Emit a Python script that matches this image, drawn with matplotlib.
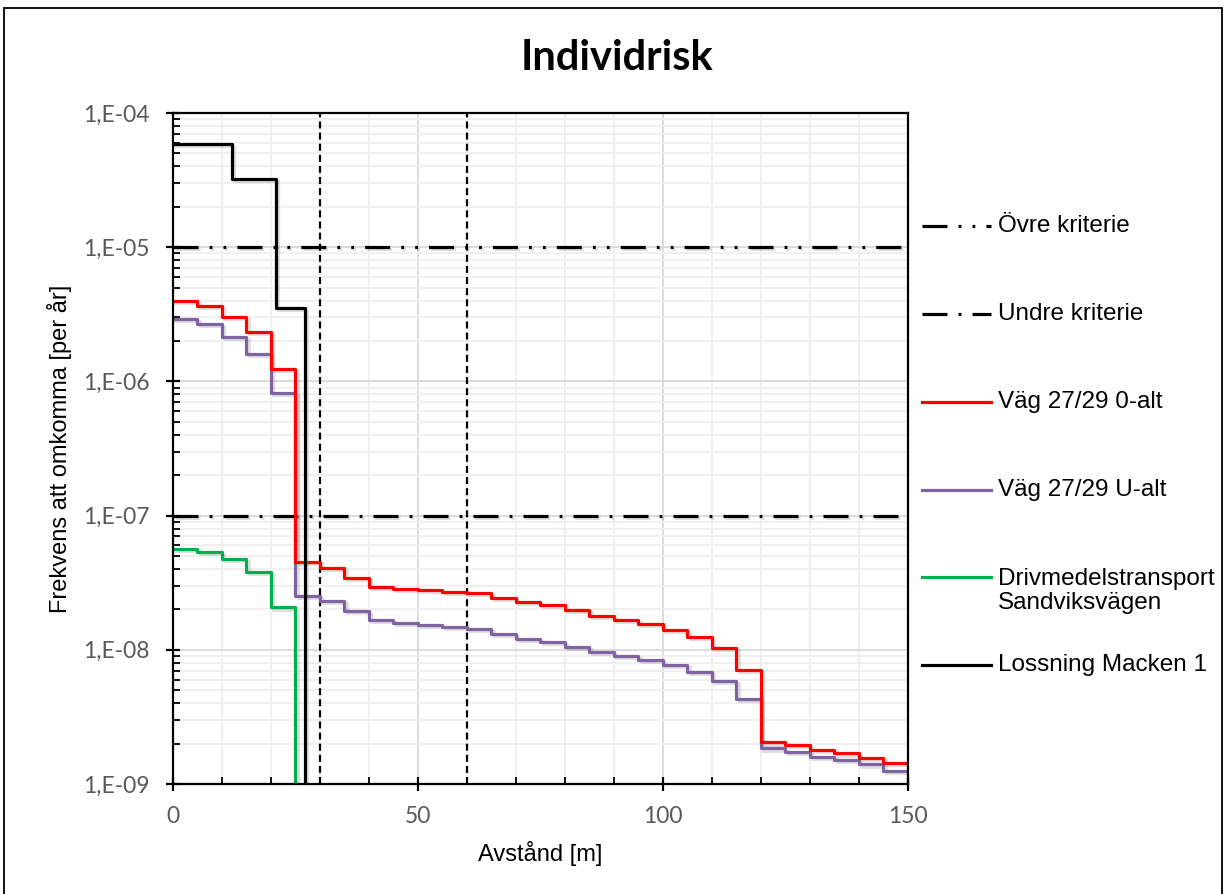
import numpy as np
import matplotlib.pyplot as plt
from matplotlib.lines import Line2D
from matplotlib.patches import Rectangle
from matplotlib.ticker import FixedLocator, LogLocator, NullFormatter
import matplotlib.patheffects as pe

plt.rcParams['lines.scale_dashes'] = False

# step positions [m]
dist = [0, 5, 10, 15, 20, 25, 30, 35, 40, 45, 50, 55, 60, 65, 70, 75,
        80, 85, 90, 95, 100, 105, 110, 115, 120, 125, 130, 135, 140, 145, 150]

vag_0alt = [3.97e-6, 3.65e-6, 3.0e-6, 2.33e-6, 1.23e-6, 4.49e-8, 4.09e-8, 3.45e-8,
            2.95e-8, 2.85e-8, 2.79e-8, 2.70e-8, 2.64e-8, 2.43e-8, 2.26e-8, 2.15e-8,
            1.98e-8, 1.80e-8, 1.67e-8, 1.55e-8, 1.41e-8, 1.25e-8, 1.03e-8, 7.08e-9,
            2.04e-9, 1.95e-9, 1.79e-9, 1.69e-9, 1.57e-9, 1.43e-9, 1.27e-9]

vag_ualt = [2.92e-6, 2.68e-6, 2.16e-6, 1.60e-6, 8.15e-7, 2.52e-8, 2.31e-8, 1.95e-8,
            1.66e-8, 1.59e-8, 1.53e-8, 1.47e-8, 1.42e-8, 1.31e-8, 1.20e-8, 1.14e-8,
            1.05e-8, 9.57e-9, 8.99e-9, 8.4e-9, 7.7e-9, 6.87e-9, 5.86e-9, 4.3e-9,
            1.84e-9, 1.74e-9, 1.60e-9, 1.51e-9, 1.40e-9, 1.26e-9, 1.0e-9]

driv_dist = [0, 5, 10, 15, 20, 25]
driv_vals = [5.63e-8, 5.38e-8, 4.72e-8, 3.78e-8, 2.07e-8, 1e-10]

loss_dist = [0, 12, 21, 27]
loss_vals = [5.9e-5, 3.2e-5, 3.5e-6, 1e-10]

ovre_krit = 1e-5
undre_krit = 1e-7
vert_lines = [30, 60]

y_ticks = [1e-9, 1e-8, 1e-7, 1e-6, 1e-5, 1e-4]
y_labels = ['1,E-09', '1,E-08', '1,E-07', '1,E-06', '1,E-05', '1,E-04']

ovre_dash = (18, 8, 2, 8, 2, 8)
undre_dash = (18, 8, 2, 8)

fig = plt.figure(figsize=(12.25, 8.94), dpi=100)
ax = fig.add_axes([0.1412, 0.1230, 0.6000, 0.7506])

shadow = [pe.SimpleLineShadow(offset=(1.5, -1.5), shadow_color='0.5', alpha=0.25), pe.Normal()]

ax.set_yscale('log')
ax.set_xlim(0, 150)
ax.set_ylim(1e-9, 1e-4)

# grid
ax.set_xticks([0, 50, 100, 150])
ax.xaxis.set_minor_locator(FixedLocator([10, 20, 30, 40, 60, 70, 80, 90, 110, 120, 130, 140]))
ax.set_yticks(y_ticks)
ax.set_yticklabels(y_labels)
ax.yaxis.set_minor_locator(LogLocator(base=10, subs=np.arange(2, 10)))
ax.yaxis.set_minor_formatter(NullFormatter())
ax.grid(True, which='major', color='#d9d9d9', lw=1.3, zorder=0)
ax.grid(True, which='minor', color='#efefef', lw=1.3, zorder=0)
ax.set_axisbelow(True)

lw = 2.3
ax.plot([0, 150], [ovre_krit, ovre_krit], color='black', lw=lw, dashes=ovre_dash, path_effects=shadow)
ax.plot([0, 150], [undre_krit, undre_krit], color='black', lw=lw, dashes=undre_dash, path_effects=shadow)
for xv in vert_lines:
    ax.axvline(xv, color='black', lw=1.6, dashes=(5, 3))

ax.step(driv_dist, driv_vals, where='post', color='#00B050', lw=lw, path_effects=shadow)
ax.step(dist, vag_ualt, where='post', color='#8064A2', lw=lw, path_effects=shadow)
ax.step(dist, vag_0alt, where='post', color='#FF0000', lw=lw, path_effects=shadow)
ax.step(loss_dist, loss_vals, where='post', color='black', lw=lw, path_effects=shadow)

for s in ax.spines.values():
    s.set_linewidth(1.6)
    s.set_color('black')

ax.tick_params(axis='both', which='major', direction='inout', length=10, width=1.6,
               labelsize=16.5, labelcolor='#595959', color='black')
ax.tick_params(axis='both', which='minor', direction='in', length=5, width=1.3, color='black')
ax.tick_params(axis='x', which='major', pad=11)
ax.tick_params(axis='y', which='major', pad=12)
for lab in ax.get_xticklabels() + ax.get_yticklabels():
    lab.set_family('Lato')

ax.set_xlabel('Avstånd [m]', fontsize=17, family='Liberation Sans', labelpad=10)
ax.set_ylabel('Frekvens att omkomma [per år]', fontsize=17, family='Liberation Sans', labelpad=8)

fig.text(0.5037, 0.935, 'Individrisk', ha='center', va='center', fontsize=30,
         fontweight='bold', family='Lato')

# legend (drawn by hand to follow the original spacing)
leg_items = [
    ('Övre kriterie', 'black', ovre_dash),
    ('Undre kriterie', 'black', undre_dash),
    ('Väg 27/29 0-alt', '#FF0000', None),
    ('Väg 27/29 U-alt', '#8064A2', None),
    ('Drivmedelstransport\nSandviksvägen', '#00B050', None),
    ('Lossning Macken 1', 'black', None),
]
leg_y = [226, 314, 402, 490, 577, 665]
H = 894.0
W = 1225.0
for (label, col, dsh), yp in zip(leg_items, leg_y):
    yf = 1 - yp / H
    kw = dict(color=col, lw=lw, transform=fig.transFigure)
    if dsh is not None:
        kw['dashes'] = dsh
    fig.add_artist(Line2D([922 / W, 991 / W], [yf, yf], **kw))
    if '\n' in label:
        yf_text = 1 - (yp + 14) / H
    else:
        yf_text = yf
    fig.text(998 / W, yf_text, label, ha='left', va='center', fontsize=17.5,
             family='Liberation Sans', linespacing=1.1)

fig.add_artist(Rectangle((4 / W, -0.02), 1218 / W, 1 - 8 / H + 0.02, transform=fig.transFigure,
                         fill=False, edgecolor='black', lw=1.3))

fig.savefig('out.png', dpi=100)
